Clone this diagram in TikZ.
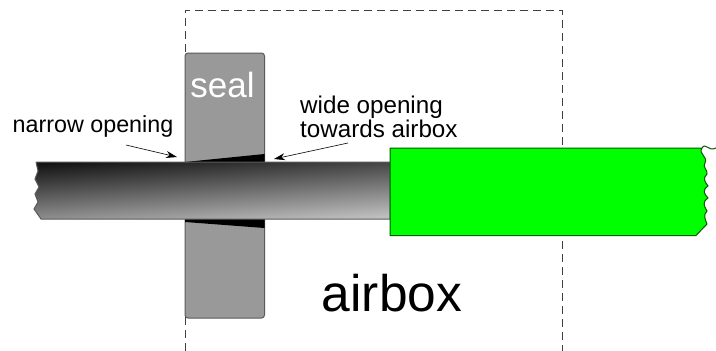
\documentclass[tikz,border=0pt]{standalone}
\usepackage{fontspec}
\setmainfont{Liberation Sans}
\usetikzlibrary{arrows.meta}
\definecolor{sealgray}{HTML}{999999}
\definecolor{edgegray}{HTML}{5A5A5A}
\definecolor{tubegreen}{HTML}{00FF00}
\tikzset{
  px/.style={x=1pt,y=-1pt},
  dashbox/.style={draw=black!75,line width=0.8pt,dash pattern=on 8pt off 5pt},
  sealbody/.style={fill=sealgray,draw=edgegray,line width=1pt,rounded corners=3pt},
  wedge/.style={fill=black,draw=none},
  tubebody/.style={draw=edgegray,line width=1pt},
  greenbody/.style={fill=tubegreen,draw=black!65!green,line width=1pt},
  pointer/.style={draw=black,line width=0.6pt,-{Stealth[length=11pt,width=7pt]}},
  lblA/.style={inner sep=0pt,font=\fontsize{23.3}{26}\selectfont,text=black},
  lblB/.style={inner sep=0pt,font=\fontsize{24.2}{26}\selectfont,text=black},
}
\begin{document}
\begin{tikzpicture}[px]
\useasboundingbox (0,0) rectangle (716,351);
\fill[white] (0,0) rectangle (716,351);
% airbox outline
\draw[dashbox] (185,351) -- (185,10) -- (562,10) -- (562,351);
% seal
\path[sealbody] (185,53) rectangle (264.5,318);
\node[inner sep=0pt,text=white,font=\fontsize{35}{35}\selectfont,anchor=base] (sealtext) at (222.5,97) {seal};
% wedges
\path[wedge] (185,162) -- (264.5,154) -- (264.5,162) -- cycle;
\path[wedge] (185,219) -- (185,222) -- (264.5,228) -- (264.5,219) -- cycle;
% tube
\shade[top color=black!25,bottom color=black!92,shading angle=184]
  (36,162) -- (390,162) -- (390,219) -- (41,219) -- (34,209) -- (38,202) -- (35,194) -- (39,187) -- (35,179) -- (38,171) -- (36,162) -- cycle;
\draw[tubebody] (36,162) -- (390,162) -- (390,219) -- (41,219) -- (34,209) -- (38,202) -- (35,194) -- (39,187) -- (35,179) -- (38,171) -- (36,162);
% green
\path[greenbody] (390,148) -- (702,148) .. controls (698,154) and (708,156) .. (705,163)
  .. controls (702,167) and (708,170) .. (707,174)
  .. controls (703,178) and (704,181) .. (708,186)
  .. controls (702,190) and (704,194) .. (708,198)
  .. controls (702,202) and (704,206) .. (707,211)
  .. controls (703,215) and (705,219) .. (707,224)
  -- (696,235.5) -- (390,235.5) -- cycle;
\draw[black!65!green,line width=1pt] (702,148) .. controls (706,142) and (708,152) .. (716,148);
% labels
\node[lblA,anchor=base west] (narrow) at (12.5,132) {narrow opening};
\node[lblB,anchor=base west] (wide) at (300,113) {wide opening};
\node[lblB,anchor=base west] (towards) at (300,137) {towards airbox};
\node[inner sep=0pt,font=\fontsize{51.5}{52}\selectfont,anchor=base] (airbox) at (392,311) {airbox};
% pointers
\coordinate (narrowtip) at (177,157);
\coordinate (narrowtail) at (126,145);
\coordinate (widetip) at (274,159);
\coordinate (widetail) at (348,143);
\draw[pointer] (narrowtail) -- (narrowtip);
\draw[pointer] (widetail) -- (widetip);
\end{tikzpicture}
\end{document}
